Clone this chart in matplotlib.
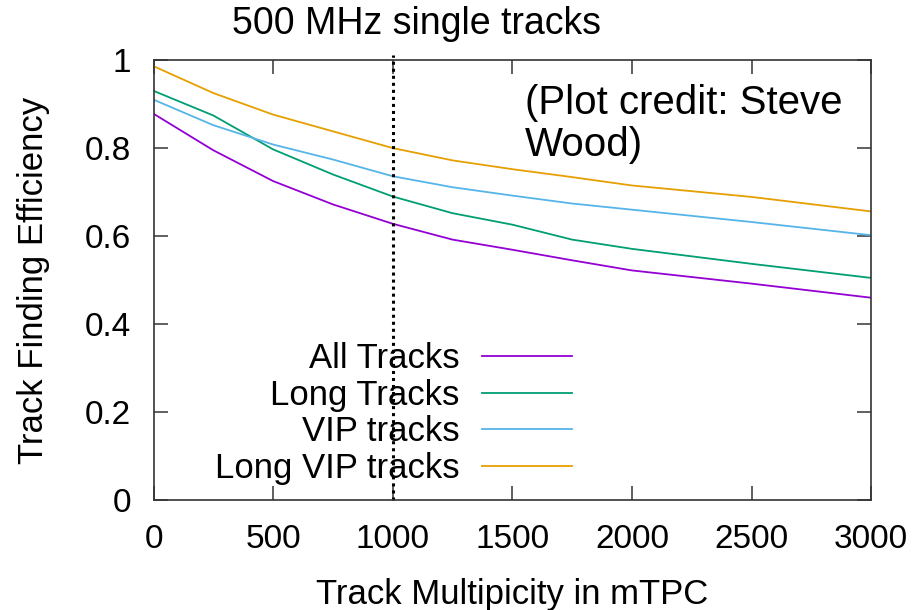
import matplotlib
matplotlib.use("Agg")
from matplotlib import pyplot as plt

plt.rcParams['font.family'] = ['Liberation Sans', 'DejaVu Sans']

# track multiplicity in the mTPC
multiplicity = [0, 250, 500, 750, 1000, 1250, 1500, 1750, 2000, 2500, 3000]

# finding efficiency per track class
eff_all = [0.878, 0.795, 0.725, 0.672, 0.628, 0.592, 0.569, 0.545, 0.522, 0.492, 0.460]
eff_long = [0.930, 0.874, 0.797, 0.740, 0.690, 0.652, 0.626, 0.592, 0.571, 0.537, 0.505]
eff_vip = [0.910, 0.852, 0.808, 0.774, 0.736, 0.711, 0.692, 0.674, 0.660, 0.632, 0.602]
eff_long_vip = [0.986, 0.925, 0.876, 0.838, 0.800, 0.772, 0.752, 0.734, 0.715, 0.689, 0.656]

labels = ["All Tracks", "Long Tracks", "VIP tracks", "Long VIP tracks"]
colors = ["#9400d3", "#009e73", "#56b4e9", "#e69f00"]

fig = plt.figure(figsize=(9.17, 6.10), dpi=100)
ax = fig.add_axes([0.1674, 0.180, 0.7826, 0.7216])

for y, lab, c in zip([eff_all, eff_long, eff_vip, eff_long_vip], labels, colors):
    ax.plot(multiplicity, y, color=c, lw=1.3, label=lab)

# reference line at 1000 tracks
ax.axvline(1000, ymin=0, ymax=1.012, color="black", lw=2.2, ls=(0, (1, 1.3)), clip_on=False)

ax.set_xlim(0, 3000)
ax.set_ylim(0, 1)
ax.set_xticks([0, 500, 1000, 1500, 2000, 2500, 3000])
ax.set_yticks([0, 0.2, 0.4, 0.6, 0.8, 1])
ax.set_yticklabels(["0", "0.2", "0.4", "0.6", "0.8", "1"])
ax.tick_params(direction="in", top=True, right=True, length=10, width=1.2,
               labelsize=24, color="#444444")
ax.tick_params(axis="x", pad=17)
ax.tick_params(axis="y", pad=16)
for s in ax.spines.values():
    s.set_linewidth(1.2)
    s.set_color("#333333")

ax.set_xlabel("Track Multipicity in mTPC", fontsize=25, labelpad=17)
ax.set_ylabel("Track Finding Efficiency", fontsize=25, labelpad=25)

fig.text(416 / 917, 1 - 24 / 610, "500 MHz single tracks", fontsize=27,
         ha="center", va="center")
ax.text(0.517, 0.945, "(Plot credit: Steve\nWood)", transform=ax.transAxes,
        fontsize=29, ha="left", va="top", linespacing=1.12)

ax.legend(loc="lower right", bbox_to_anchor=(0.583, 0.035), frameon=False,
          markerfirst=False, fontsize=25, handlelength=2.6, handletextpad=0.63,
          labelspacing=0.1, borderaxespad=0, borderpad=0)
for t in ax.get_legend().get_texts():
    t.set_ha("right")

fig.savefig("out.png", dpi=100)
